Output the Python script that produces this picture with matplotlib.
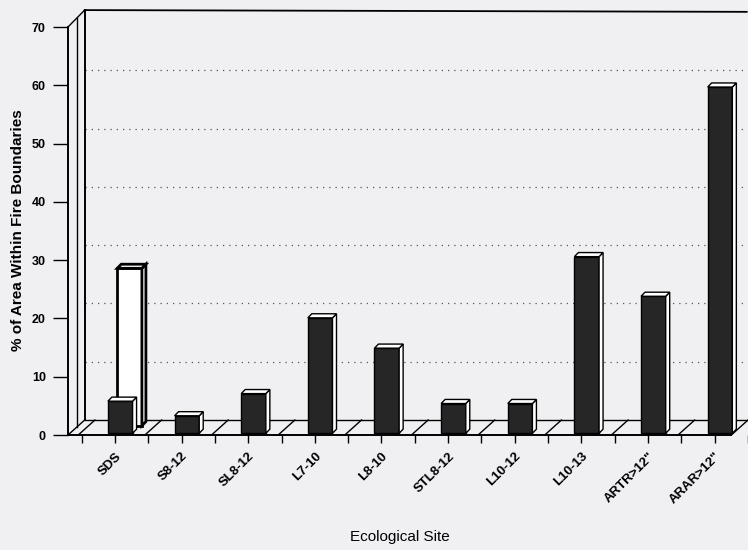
import matplotlib.pyplot as plt
from matplotlib.patches import Polygon

plt.rcParams['font.family'] = ['Liberation Sans', 'DejaVu Sans']

sites = ['SDS', 'S8-12', 'SL8-12', 'L7-10', 'L8-10', 'STL8-12', 'L10-12',
         'L10-13', 'ARTR>12"', 'ARAR>12"']
front_vals = [5.5, 3.0, 6.8, 19.8, 14.6, 5.1, 5.1, 30.3, 23.5, 59.4]
back_vals = [27.0, 0, 0, 0, 0, 0, 0, 0, 0, 0]
yticks = [0, 10, 20, 30, 40, 50, 60, 70]
grid_vals = [10, 20, 30, 40, 50, 60]

bg = '#f0f0f3'
fig = plt.figure(figsize=(7.48, 5.5), dpi=100, facecolor=bg)
ax = fig.add_axes([68 / 748, 115 / 550, 680 / 748, 408 / 550])
ax.set_facecolor(bg)
ax.patch.set_alpha(0)

x0, x1 = -0.704, 9.48
ax.set_xlim(x0, x1)
ax.set_ylim(0, 70)

# depth of the floor / wall, and of each bar
DX, DY = 0.25, 2.57
bw = 0.37
ddx, ddy = 0.06, 0.7

# back wall gridlines
for g in grid_vals:
    ax.plot([x0 + DX, x1], [g + DY, g + DY], color='#555555', lw=0.9,
            ls=(0, (1, 4)), zorder=1, clip_on=False)

# left wall
ax.plot([x0 + DX, x0 + DX], [DY, 72.9], color='black', lw=1.4, zorder=2, clip_on=False)
ax.plot([x0 + 0.13, x0 + 0.13], [1.3, 71.6], color='black', lw=1.0, zorder=2, clip_on=False)
ax.plot([x0, x0 + DX], [70, 72.9], color='black', lw=1.0, zorder=2, clip_on=False)
ax.plot([x0 + DX, x1], [72.9, 72.6], color='black', lw=1.3, zorder=2, clip_on=False)

# floor
xf = 9.25
ax.plot([x0, xf], [0, 0], color='black', lw=1.4, zorder=2, clip_on=False)
ax.plot([x0 + DX, xf + DX], [DY, DY], color='black', lw=1.0, zorder=2, clip_on=False)
ax.plot([xf, xf + DX], [0, DY], color='black', lw=1.0, zorder=2, clip_on=False)
ax.plot([x0, x0 + DX], [0, DY], color='black', lw=1.0, zorder=2, clip_on=False)
for i in range(-1, len(sites) - 1):
    b = i + 0.5
    ax.plot([b - 0.05, b + DX - 0.05], [0, DY], color='black', lw=1.0, zorder=2, clip_on=False)


def bar3d(x, bottom, h, face, lw, z):
    ax.bar(x, h, width=bw, bottom=bottom, color=face, edgecolor='black',
           linewidth=lw, zorder=z)
    xl, xr = x - bw / 2, x + bw / 2
    top = bottom + h
    side = [(xr, bottom), (xr + ddx, bottom + ddy), (xr + ddx, top + ddy), (xr, top)]
    topf = [(xl, top), (xl + ddx, top + ddy), (xr + ddx, top + ddy), (xr, top)]
    ax.add_patch(Polygon(side, closed=True, fc='white', ec='black', lw=lw, zorder=z))
    ax.add_patch(Polygon(topf, closed=True, fc='white', ec='black', lw=lw, zorder=z))


xs = list(range(len(sites)))
for i, v in enumerate(back_vals):
    if v > 0:
        bar3d(xs[i] + 0.22, 1.6, v, 'white', 2.0, 2.5)
for i, v in enumerate(front_vals):
    bar3d(xs[i] + 0.08, 0.3, v, '#262626', 1.0, 4)

for s in ['top', 'right', 'bottom']:
    ax.spines[s].set_visible(False)
ax.spines['left'].set_linewidth(1.4)

ax.set_yticks(yticks)
ax.set_yticklabels([str(t) for t in yticks], fontsize=9, fontweight='bold')
ax.tick_params(axis='y', direction='out', length=11, width=1.0, pad=5)

ax.set_xticks(xs)
ax.set_xticks([i + 0.5 for i in range(-1, len(sites))], minor=True)
ax.set_xticklabels(sites, fontsize=9.5, fontweight='bold', rotation=45,
                   ha='right', va='top', rotation_mode='anchor')
ax.tick_params(axis='x', which='both', direction='out', length=6, width=1.0, pad=5)
ax.tick_params(axis='x', which='minor', length=6)

fig.text(18 / 748, 1 - 230 / 550, '% of Area Within Fire Boundaries', rotation=90,
         ha='center', va='center', fontsize=11, fontweight='bold')
fig.text(400 / 748, 1 - 537 / 550, 'Ecological Site', ha='center', va='center',
         fontsize=11)

fig.savefig('out.png', dpi=100, facecolor=bg)
